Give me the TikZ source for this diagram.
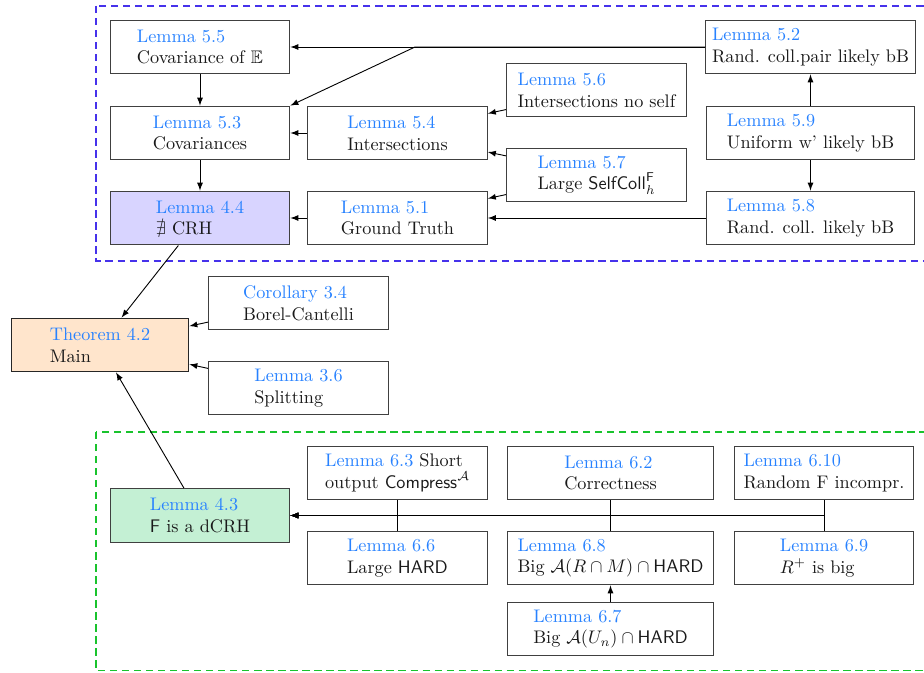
\documentclass[tikz,border=0pt]{standalone}
\usepackage{xcolor}
\usepackage{tikz}
\usepackage{amsmath}
\usepackage{amssymb}
\usetikzlibrary{arrows, positioning, calc}
\definecolor{resblue}{RGB}{40, 130, 255}
\definecolor{sec5}{RGB}{70, 50, 235}
\definecolor{sec6}{RGB}{25, 195, 45}
\definecolor{fillfour}{RGB}{216, 212, 255}
\definecolor{fillmain}{RGB}{255, 229, 204}
\definecolor{filldcrh}{RGB}{196, 240, 212}
\newcommand{\resname}[1]{\textcolor{resblue}{#1}}
\tikzset{
    res/.style={draw=black!75, line width=0.55pt, align=left, text=black!90,
        minimum width=98.8pt, minimum height=29.6pt},
    reswide/.style={res, minimum width=114.7pt},
    resmid/.style={res, minimum width=113.6pt},
    dep/.style={->, >=latex, line width=0.5pt},
    secbox/.style={dash pattern=on 4pt off 2.6pt, line width=0.8pt}
}

\begin{document}
\begin{tikzpicture}[x=0.549pt, y=-0.549pt]
        \useasboundingbox (0,0) rectangle (924,673);
        \clip (0,0) rectangle (924,673);
        % section 5 and section 6 frames
        \draw[secbox, sec5] (96,6) rectangle (940,261);
        \draw[secbox, sec6] (96,432) rectangle (940,670.5);

        % section 5 results
        \node[res] (l55) at (200,47) {\resname{Lemma 5.5}\\Covariance of $\mathbb{E}$};
        \node[res] (l53) at (200,133) {\resname{Lemma 5.3}\\Covariances};
        \node[res, fill=fillfour] (l44) at (200,218) {\resname{Lemma 4.4}\\$\nexists$ CRH};
        \node[res] (l54) at (397.5,133) {\resname{Lemma 5.4}\\Intersections};
        \node[res] (l51) at (397.5,218) {\resname{Lemma 5.1}\\Ground Truth};
        \node[res] (l56) at (596.5,90) {\resname{Lemma 5.6}\\Intersections no self};
        \node[res] (l57) at (596.5,175) {\resname{Lemma 5.7}\\Large $\mathsf{SelfColl}_h^{\mathsf{F}}$};
        \node[reswide] (l52) at (810.5,47) {\resname{Lemma 5.2}\\Rand. coll.pair likely bB};
        \node[reswide] (l59) at (810.5,133) {\resname{Lemma 5.9}\\Uniform w' likely bB};
        \node[reswide] (l58) at (810.5,218) {\resname{Lemma 5.8}\\Rand. coll. likely bB};
        \coordinate (split) at (415,47);

        % main theorem and section 3
        \node[res, minimum width=97.7pt, fill=fillmain, draw=black!85] (th42) at (100,345) {\resname{Theorem 4.2}\\Main};
        \node[res] (c34) at (298.5,303) {\resname{Corollary 3.4}\\Borel-Cantelli};
        \node[res] (l36) at (298.5,388) {\resname{Lemma 3.6}\\Splitting};

        % section 6 results
        \node[res, fill=filldcrh] (l43) at (200,515.5) {\resname{Lemma 4.3}\\$\mathsf{F}$ is a dCRH};
        \node[res] (l63) at (397.5,473) {\resname{Lemma 6.3} Short\\output $\mathsf{Compress}^{\mathcal{A}}$};
        \node[res] (l66) at (397.5,558) {\resname{Lemma 6.6}\\Large $\mathsf{HARD}$};
        \node[resmid] (l62) at (610.5,473) {\resname{Lemma 6.2}\\Correctness};
        \node[resmid] (l68) at (610.5,558) {\resname{Lemma 6.8}\\Big $\mathcal{A}(R\cap M)\cap\mathsf{HARD}$};
        \node[resmid] (l67) at (610.5,629) {\resname{Lemma 6.7}\\Big $\mathcal{A}(U_n)\cap\mathsf{HARD}$};
        \node[res] (l610) at (824,473) {\resname{Lemma 6.10}\\Random F incompr.};
        \node[res] (l69) at (824,558) {\resname{Lemma 6.9}\\$R^+$ is big};

        % dependencies
        \draw[dep] (l52) -- (l55);
        \draw[dep] (l52) -- (split) -- (l53.north east);
        \draw[dep] (l55) -- (l53);
        \draw[dep] (l53) -- (l44);
        \draw[dep] (l54) -- (l53);
        \draw[dep] (l56) -- (l54);
        \draw[dep] (l57) -- (l54);
        \draw[dep] (l57) -- (l51);
        \draw[dep] (l58) -- (l51);
        \draw[dep] (l51) -- (l44);
        \draw[dep] (l59) -- (l52);
        \draw[dep] (l59) -- (l58);
        \draw[dep] (l44) -- (th42);
        \draw[dep] (c34) -- (th42);
        \draw[dep] (l36) -- (th42);
        \draw[dep] (l43) -- (th42);
        \foreach \src in {l63,l66,l62,l68,l610,l69} {
            \draw[dep] (\src) |- (l43);
        }
        \draw[dep] (l67) -- (l68);
    \end{tikzpicture}
\end{document}
